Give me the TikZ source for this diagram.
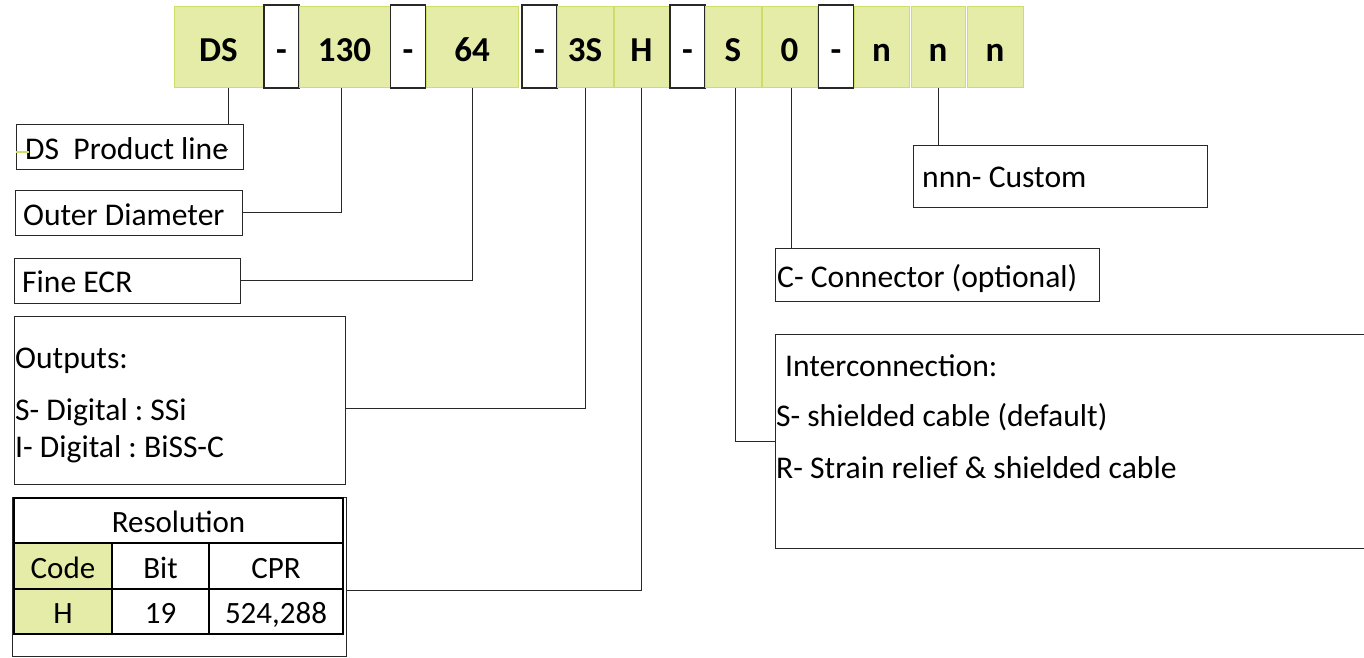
\documentclass[tikz,border=0pt]{standalone}
\usepackage{fontspec}
\setmainfont{Carlito}
\usetikzlibrary{positioning}
\frenchspacing
\definecolor{codefill}{RGB}{228,236,168}
\definecolor{codeline}{RGB}{204,222,104}
\definecolor{boxline}{RGB}{40,40,40}
\tikzset{codebox/.style = {draw=codeline, fill=codefill, line width=1pt, minimum height=81pt, inner sep=0, text height=30pt, text depth=1pt, font=\bfseries\fontsize{35}{40}\selectfont}}
\tikzset{dashbox/.style = {draw=boxline, fill=white, line width=1.3pt, minimum height=83pt, minimum width=35pt, inner sep=0, text height=30pt, text depth=1pt, font=\bfseries\fontsize{35}{40}\selectfont}}
\tikzset{labbox/.style = {draw=boxline, line width=1pt, inner sep=0}}
\tikzset{labtext/.style = {inner sep=0, anchor=base west, font=\fontsize{31.6}{36}\selectfont}}
\tikzset{cell/.style = {draw=black, line width=2pt, inner sep=0, minimum height=45pt, text height=26pt, text depth=2pt, font=\fontsize{31}{36}\selectfont}}
\tikzset{wire/.style = {draw=boxline, line width=1pt}}

\begin{document}
\begin{tikzpicture}[x=1pt,y=-1pt]
        \useasboundingbox (0,0) rectangle (1364,657);
        % part number
        \node[codebox, minimum width=89pt] (cds) at (218.5,46.5) {DS};
        \node[dashbox] (d1) at (281.5,46.5) {-};
        \node[codebox, minimum width=91pt] (c130) at (344.5,46.5) {130};
        \node[dashbox] (d2) at (408,46.5) {-};
        \node[codebox, minimum width=92pt] (c64) at (472,46.5) {64};
        \node[dashbox] (d3) at (539.5,46.5) {-};
        \node[codebox, minimum width=56pt] (c3s) at (585,46.5) {3S};
        \node[codebox, minimum width=55pt] (ch) at (641.5,46.5) {H};
        \node[dashbox] (d4) at (687.5,46.5) {-};
        \node[codebox, minimum width=56pt] (cs) at (733,46.5) {S};
        \node[codebox, minimum width=55pt] (c0) at (789.5,46.5) {0};
        \node[dashbox] (d5) at (836,46.5) {-};
        \node[codebox, minimum width=55pt] (cn1) at (881.5,46.5) {n};
        \node[codebox, minimum width=54pt] (cn2) at (938,46.5) {n};
        \node[codebox, minimum width=56pt] (cn3) at (995,46.5) {n};
        % left column
        \node[labbox, minimum width=227pt, minimum height=45pt] (prod) at (129.5,146.5) {};
        \node[labtext] (prodtxt) at (25,159) {DS\ \ Product line};
        \draw [codeline, line width=1.2pt] (16,152)--(29,152);
        \draw [boxline, line width=1pt] (220,149)--(228,149);
        \node[labbox, minimum width=227pt, minimum height=45pt] (outer) at (128.5,212.5) {};
        \node[labtext] (outertxt) at (23,225) {Outer Diameter};
        \node[labbox, minimum width=226pt, minimum height=45pt] (fine) at (127,280.5) {};
        \node[labtext] (finetxt) at (22,292) {Fine ECR};
        \node[labbox, minimum width=331pt, minimum height=168pt] (outputs) at (179.5,400) {};
        \node[labtext] (outtxta) at (15,368) {Outputs:};
        \node[labtext] (outtxtb) at (15,420) {S- Digital : SSi};
        \node[labtext] (outtxtc) at (15,457) {I- Digital : BiSS-C};
        % resolution table
        \node[labbox, minimum width=334pt, minimum height=159pt] (resframe) at (179,576.5) {};
        \node[cell, minimum width=329pt] (reshead) at (178.5,520.5) {Resolution};
        \node[cell, fill=codefill, minimum width=98pt, minimum height=46pt] (codehead) at (63,566) {Code};
        \node[cell, minimum width=97pt, minimum height=46pt] (bithead) at (160.5,566) {Bit};
        \node[cell, minimum width=134pt, minimum height=46pt] (cprhead) at (276,566) {CPR};
        \node[cell, fill=codefill, minimum width=98pt] (hcell) at (63,611.5) {H};
        \node[cell, minimum width=97pt] (bitcell) at (160.5,611.5) {19};
        \node[cell, minimum width=134pt] (cprcell) at (276,611.5) {524,288};
        % right column
        \node[labbox, minimum width=294pt, minimum height=62pt] (custom) at (1060,176) {};
        \node[labtext] (customtxt) at (922,187) {nnn- Custom};
        \node[labbox, minimum width=324pt, minimum height=53pt] (conn) at (937,274.5) {};
        \node[labtext] (conntxt) at (777,287) {C- Connector (optional)};
        \node[labbox, minimum width=605pt, minimum height=214pt] (inter) at (1077.5,441) {};
        \node[labtext] (intertxta) at (785,376) {Interconnection:};
        \node[labtext] (intertxtb) at (776,426) {S- shielded cable (default)};
        \node[labtext] (intertxtc) at (776,478) {R- Strain relief \& shielded cable};
        % connectors
        \coordinate (hend) at (resframe.east |- cprhead.south);
        \draw [wire] ([xshift=10pt]cds.south) -- ([xshift=10pt]cds.south |- prod.north);
        \draw [wire] ([xshift=-3pt]c130.south) |- (outer.east);
        \draw [wire] (c64.south) |- (fine.east);
        \draw [wire] (c3s.south) |- ([yshift=-8pt]outputs.east);
        \draw [wire] (ch.south) |- (hend);
        \draw [wire] ([xshift=2pt]cs.south) |- (inter.west);
        \draw [wire] ([xshift=2pt]c0.south) -- ([xshift=2pt]c0.south |- conn.north);
        \draw [wire] (cn2.south) -- (cn2.south |- custom.north);
    \end{tikzpicture}
\end{document}
